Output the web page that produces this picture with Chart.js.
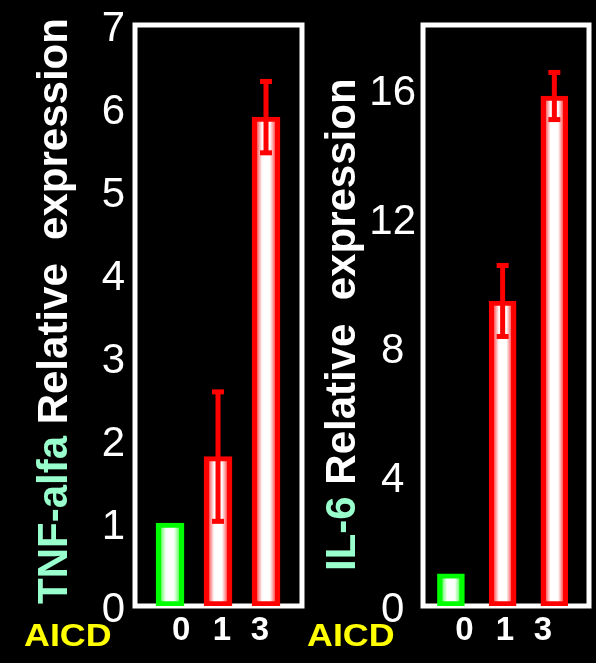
<!DOCTYPE html>
<html>
<head>
<meta charset="utf-8">
<script src="https://cdn.jsdelivr.net/npm/chart.js@4/dist/chart.umd.min.js"></script>
<style>
  html, body { margin: 0; padding: 0; background: #000; width: 596px; height: 663px; overflow: hidden; }
  canvas { position: absolute; top: 0; }
  #tnf { left: 0; }
  #il6 { left: 300px; }
</style>
</head>
<body>
<canvas id="tnf" width="310" height="663"></canvas>
<canvas id="il6" width="296" height="663"></canvas>
<script>
// AICD dose groups
const categories = ['0', '1', '3'];

// TNF-alfa relative expression (mean, error)
const tnfValues = [1.0, 1.8, 5.89];
const tnfErrors = [0, 0.78, 0.43];
const tnfTicks = [0, 1, 2, 3, 4, 5, 6, 7];

// IL-6 relative expression (mean, error)
const il6Values = [1.0, 9.45, 15.8];
const il6Errors = [0, 1.1, 0.73];
const il6Ticks = [0, 4, 8, 12, 16];

const barColors = ['#00ff00', '#ff0000', '#ff0000'];
const barTints = ['#7dff7d', '#ff7070', '#ff7070'];
const titleColor = '#99ffcc';

// Bar fill: light edge tint fading to white in the middle of each bar
function barFill(c, width) {
  const chart = c.chart;
  if (!chart.chartArea || c.dataIndex === undefined) return '#ffffff';
  const x = chart.scales.x.getPixelForValue(c.dataIndex);
  const g = chart.ctx.createLinearGradient(x - width / 2, 0, x + width / 2, 0);
  const col = barColors[c.dataIndex];
  const tint = barTints[c.dataIndex];
  g.addColorStop(0, col);
  g.addColorStop(0.17, col);
  g.addColorStop(0.2, tint);
  g.addColorStop(0.36, '#ffffff');
  g.addColorStop(0.64, '#ffffff');
  g.addColorStop(0.8, tint);
  g.addColorStop(0.83, col);
  g.addColorStop(1, col);
  return g;
}

// Frame, error bars, rotated two-colour axis title and the AICD caption
const decor = {
  id: 'decor',
  beforeDatasetsDraw(chart) {
    const { ctx, chartArea: a } = chart;
    ctx.save();
    ctx.strokeStyle = '#ffffff';
    ctx.lineWidth = 5;
    ctx.strokeRect(a.left, a.top, a.right - a.left, a.bottom - a.top);
    ctx.restore();
  },
  afterDatasetsDraw(chart, args, opts) {
    const { ctx } = chart;
    const y = chart.scales.y;
    const meta = chart.getDatasetMeta(0);
    const data = chart.data.datasets[0].data;
    ctx.save();
    ctx.fillStyle = '#ff0000';
    meta.data.forEach((bar, i) => {
      const e = opts.errors[i];
      if (!e) return;
      const v = data[i].y;
      const top = y.getPixelForValue(v + e);
      const bot = y.getPixelForValue(v - e);
      ctx.fillRect(bar.x - 2.5, top, 5, bot - top);
      ctx.fillRect(bar.x - 6, top - 2.5, 12, 5);
      ctx.fillRect(bar.x - 6, bot - 2.5, 12, 5);
    });
    ctx.restore();
  },
  afterDraw(chart, args, opts) {
    const { ctx } = chart;
    // vertical axis title, read bottom to top
    ctx.save();
    ctx.translate(opts.titleX, opts.titleY);
    ctx.rotate(-Math.PI / 2);
    ctx.font = 'bold 42px "Liberation Sans", Arial, sans-serif';
    ctx.textAlign = 'left';
    ctx.textBaseline = 'alphabetic';
    let pos = 0;
    opts.title.forEach(part => {
      ctx.fillStyle = part.color;
      ctx.fillText(part.text, pos, 0);
      pos += ctx.measureText(part.text).width;
    });
    ctx.restore();
    // group caption under the axis
    ctx.save();
    ctx.translate(opts.captionX, opts.captionY);
    ctx.scale(1.12, 1);
    ctx.font = 'bold 32px "Liberation Sans", Arial, sans-serif';
    ctx.fillStyle = '#ffff00';
    ctx.textAlign = 'left';
    ctx.textBaseline = 'alphabetic';
    ctx.fillText('AICD', 0, 0);
    ctx.restore();
  }
};

function makeChart(id, cfg) {
  return new Chart(document.getElementById(id), {
    type: 'bar',
    data: {
      datasets: [{
        data: cfg.values.map((v, i) => ({ x: i, y: v })),
        backgroundColor: (c) => barFill(c, cfg.barWidth),
        borderColor: barColors,
        borderWidth: 5,
        borderSkipped: false,
        barThickness: cfg.barWidth
      }]
    },
    options: {
      responsive: false,
      animation: false,
      events: [],
      layout: { padding: { left: 0, right: cfg.padRight, top: 25, bottom: 0 } },
      plugins: {
        legend: { display: false },
        tooltip: { enabled: false },
        decor: {
          errors: cfg.errors,
          title: cfg.title,
          titleX: cfg.titleX,
          titleY: cfg.titleY,
          captionX: cfg.captionX,
          captionY: 646
        }
      },
      scales: {
        x: {
          type: 'linear',
          offset: false,
          min: cfg.xMin,
          max: cfg.xMax,
          grid: { display: false, drawTicks: false, offset: false },
          border: { display: false },
          afterBuildTicks: (s) => { s.ticks = categories.map((c, i) => ({ value: i + cfg.labelNudge[i] })); },
          afterFit: (s) => { s.height = 57; s.paddingLeft = 0; s.paddingRight = 0; },
          ticks: {
            callback: (v, i) => categories[i],
            color: '#ffffff',
            font: { family: '"Liberation Sans", Arial, sans-serif', size: 33, weight: 'bold' },
            padding: 5,
            autoSkip: false,
            maxRotation: 0
          }
        },
        y: {
          min: 0,
          max: cfg.yMax,
          grid: { display: false, drawTicks: false },
          border: { display: false },
          afterBuildTicks: (s) => { s.ticks = cfg.ticks.map(v => ({ value: v })); },
          afterFit: (s) => { s.width = cfg.axisWidth; s.paddingTop = 0; s.paddingBottom = 0; },
          ticks: {
            color: '#ffffff',
            font: { family: '"Liberation Sans", Arial, sans-serif', size: 42 },
            padding: cfg.tickPad,
            crossAlign: cfg.crossAlign,
            labelOffset: 4
          }
        }
      }
    },
    plugins: [decor]
  });
}

makeChart('tnf', {
  values: tnfValues,
  errors: tnfErrors,
  ticks: tnfTicks,
  yMax: 7,
  xMin: -0.73,
  xMax: 2.75,
  barWidth: 28,
  padRight: 8,
  axisWidth: 135,
  tickPad: 10,
  crossAlign: 'near',
  labelNudge: [0.23, 0.08, -0.125],
  title: [{ text: 'TNF-alfa', color: titleColor }, { text: ' Relative  expression', color: '#ffffff' }],
  titleX: 67,
  titleY: 604,
  captionX: 24
});

makeChart('il6', {
  values: il6Values,
  errors: il6Errors,
  ticks: il6Ticks,
  yMax: 18,
  xMin: -0.54,
  xMax: 2.67,
  barWidth: 27,
  padRight: 7,
  axisWidth: 123,
  tickPad: 7,
  crossAlign: 'center',
  labelNudge: [0.26, 0.045, -0.22],
  title: [{ text: 'IL-6', color: titleColor }, { text: ' Relative  expression', color: '#ffffff' }],
  titleX: 55,
  titleY: 571,
  captionX: 7
});
</script>
</body>
</html>
